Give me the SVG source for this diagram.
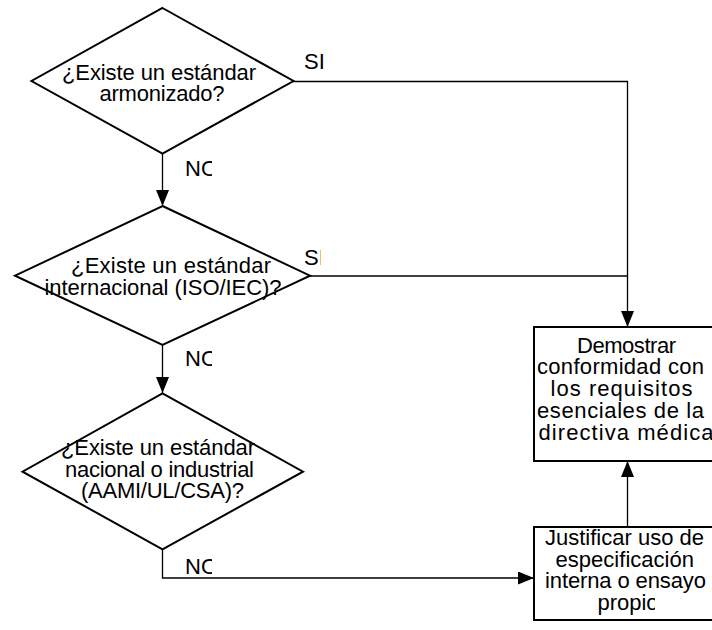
<svg xmlns="http://www.w3.org/2000/svg" width="712" height="630" viewBox="0 0 712 630">
  <style>
    text { font-family: "Liberation Sans", Arial, sans-serif; font-size: 22px; fill: #000; }
    .shape { fill: #fff; stroke: #000; stroke-width: 2; }
    .conn { fill: none; stroke: #000; stroke-width: 1.3; }
  </style>
  <defs>
    <marker id="arrow" markerUnits="userSpaceOnUse" markerWidth="16" markerHeight="13" refX="16" refY="6.5" orient="auto">
      <path d="M0,0 L16,6.5 L0,13 Z" fill="#000"/>
    </marker>
    <clipPath id="clipNo1"><rect x="180" y="150" width="32" height="40"/></clipPath>
    <clipPath id="clipNo2"><rect x="180" y="340" width="32" height="40"/></clipPath>
    <clipPath id="clipNo3"><rect x="180" y="550" width="32" height="30"/></clipPath>
    <clipPath id="clipSi2"><rect x="300" y="245" width="21" height="30"/></clipPath>
    <clipPath id="clipBox2"><rect x="535" y="528" width="120" height="91"/></clipPath>
  </defs>

  <!-- connectors -->
  <g id="connectors">
    <path class="conn" d="M293,81.5 H627.5 V327" marker-end="url(#arrow)"/>
    <path class="conn" d="M310,276 H627.5"/>
    <path class="conn" d="M162.5,153 V206" marker-end="url(#arrow)"/>
    <path class="conn" d="M162.5,345 V393" marker-end="url(#arrow)"/>
    <path class="conn" d="M162.5,549 V578 H534" marker-end="url(#arrow)"/>
    <path class="conn" d="M627.5,527 V461" marker-end="url(#arrow)"/>
    <text x="304" y="68.5">SI</text>
    <text x="304" y="265" clip-path="url(#clipSi2)">SI</text>
    <text x="185" y="176" clip-path="url(#clipNo1)">NO</text>
    <text x="185" y="366" clip-path="url(#clipNo2)">NO</text>
    <text x="185" y="574" clip-path="url(#clipNo3)">NO</text>
  </g>

  <!-- decision: harmonised standard -->
  <g id="decision-harmonized">
    <polygon class="shape" points="162.5,8 293.5,81 162.5,153.5 31.5,81"/>
    <text x="62" y="80" textLength="194" lengthAdjust="spacing">¿Existe un estándar</text>
    <text x="99.5" y="101" textLength="125" lengthAdjust="spacing">armonizado?</text>
  </g>

  <!-- decision: international standard -->
  <g id="decision-international">
    <polygon class="shape" points="162.5,206 310,275.7 162.5,345 15,275.7" fill-opacity="0"/>
    <text x="71" y="273" textLength="200" lengthAdjust="spacing">¿Existe un estándar</text>
    <text x="44.5" y="294.7" textLength="237" lengthAdjust="spacing">internacional (ISO/IEC)?</text>
  </g>

  <!-- decision: national / industry standard -->
  <g id="decision-national">
    <polygon class="shape" points="162.5,393.3 303,471.7 162.5,549.3 22.5,471.7" fill-opacity="0"/>
    <text x="61" y="455" textLength="194" lengthAdjust="spacing">¿Existe un estándar</text>
    <text x="65" y="476.7" textLength="189" lengthAdjust="spacing">nacional o industrial</text>
    <text x="81" y="498.3" textLength="163" lengthAdjust="spacing">(AAMI/UL/CSA)?</text>
  </g>

  <!-- result: demonstrate conformity -->
  <g id="box-conformity">
    <rect class="shape" x="534" y="327" width="182" height="134"/>
    <text x="577" y="352.5" textLength="99" lengthAdjust="spacing">Demostrar</text>
    <text x="537" y="374.3" textLength="167" lengthAdjust="spacing">conformidad con</text>
    <text x="550.5" y="396" textLength="142" lengthAdjust="spacing">los requisitos</text>
    <text x="537" y="418" textLength="167" lengthAdjust="spacing">esenciales de la</text>
    <text x="538.5" y="439.5" textLength="175" lengthAdjust="spacing">directiva médica</text>
  </g>

  <!-- fallback: internal specification -->
  <g id="box-internal">
    <rect class="shape" x="534" y="527" width="182" height="93"/>
    <text x="545" y="545" textLength="159" lengthAdjust="spacing">Justificar uso de</text>
    <text x="555.5" y="566.7" textLength="138.5" lengthAdjust="spacing">especificación</text>
    <text x="545" y="588.3" textLength="161" lengthAdjust="spacing">interna o ensayo</text>
    <text x="597.5" y="610" textLength="61" lengthAdjust="spacing" clip-path="url(#clipBox2)">propio</text>
  </g>
</svg>
